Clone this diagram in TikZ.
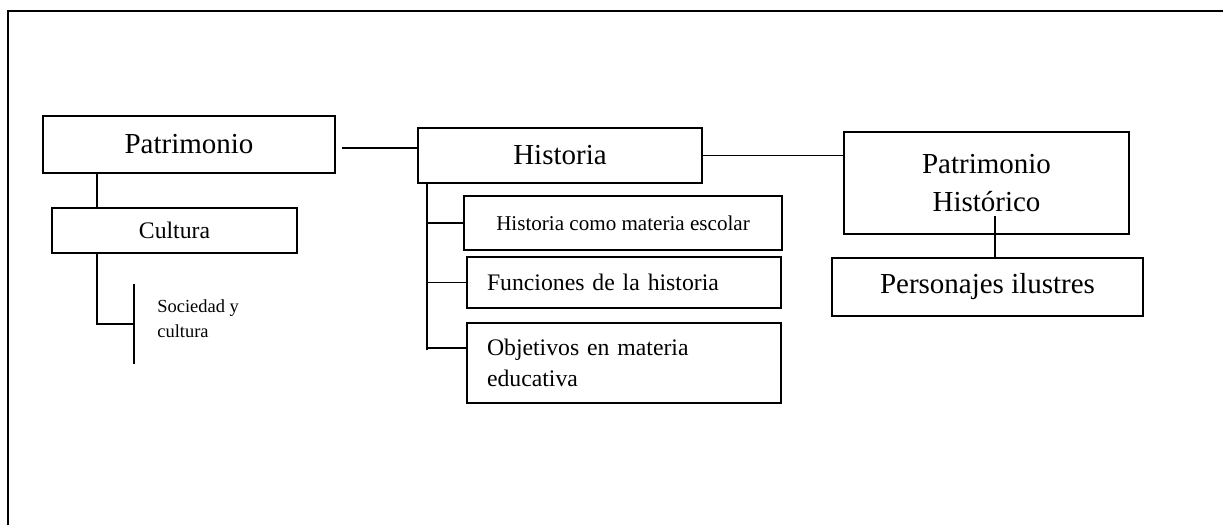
\documentclass[tikz,border=0pt]{standalone}
\usepackage{fontspec}
\setmainfont{Liberation Serif}
\usetikzlibrary{positioning,calc}

\begin{document}
\begin{tikzpicture}[x=0.02cm,y=0.02cm,
        caja/.style={draw, line width=0.9pt, inner sep=0pt, align=center},
        cajaizq/.style={caja, align=left, inner xsep=0.4cm},
        liga/.style={line width=0.6pt},
        grande/.style={font=\fontsize{16.5}{21.6}\selectfont},
        media/.style={font=\fontsize{13.5}{18}\selectfont},
        chica/.style={font=\fontsize{10.5}{14.2}\selectfont}]
        \useasboundingbox (0,0) rectangle (1223,525);

        %Frame
        \draw[line width=1.2pt] (8,0) -- (8,514) -- (1223,514);

        %Patrimonio
        \node[caja, grande, minimum width=5.84cm, minimum height=1.14cm] (pat) at (189,380.5) {Patrimonio};
        \node[caja, media, minimum width=4.9cm, minimum height=0.9cm] (cul) at (174.5,294.5) {Cultura};
        \node[chica, align=left, anchor=west, inner sep=0pt] (soc) at (157,206.5) {Sociedad y\\cultura};
        \coordinate (k) at (97,0);
        \coordinate (bar) at (134,201);
        \draw[liga] (pat.south -| k) -- (cul.north -| k);
        \draw[liga] (cul.south -| k) |- (bar);
        \draw[liga] ($(bar)+(0,40)$) -- ($(bar)+(0,-40)$);

        %Historia
        \node[caja, grande, minimum width=5.68cm, minimum height=1.1cm] (his) at (560,369.5) {Historia};
        \node[caja, font=\fontsize{12}{14}\selectfont, minimum width=6.36cm, minimum height=1.08cm] (esc) at (623,302) {Historia como materia escolar};
        \node[cajaizq, media, text width=5.48cm, minimum height=1.02cm] (fun) at (624,242.5) {Funciones de la historia};
        \node[cajaizq, media, text width=5.48cm, minimum height=1.6cm] (obj) at (624,162) {Objetivos en materia\\educativa};
        \coordinate (p1) at (342,377);
        \draw[liga] (p1) -- (p1 -| his.west);
        \coordinate (hb) at (427,175);
        \coordinate (o3) at ($(obj.west)+(0,15)$);
        \draw[liga] (his.south -| hb) -- (hb);
        \draw[liga] (esc.west -| hb) -- (esc.west);
        \draw[liga] (fun.west -| hb) -- (fun.west);
        \draw[liga] (o3 -| hb) -- (o3);

        %Patrimonio Historico
        \node[caja, grande, minimum width=5.7cm, minimum height=2.04cm] (phi) at (986.5,342) {Patrimonio\\Histórico};
        \node[caja, grande, minimum width=6.22cm, minimum height=1.16cm] (per) at (987.5,238) {Personajes ilustres};
        \coordinate (q) at (995,309);
        \draw[liga] (his.east) -- (his.east -| phi.west);
        \draw[liga] (q) -- (q |- per.north);
    \end{tikzpicture}
\end{document}
